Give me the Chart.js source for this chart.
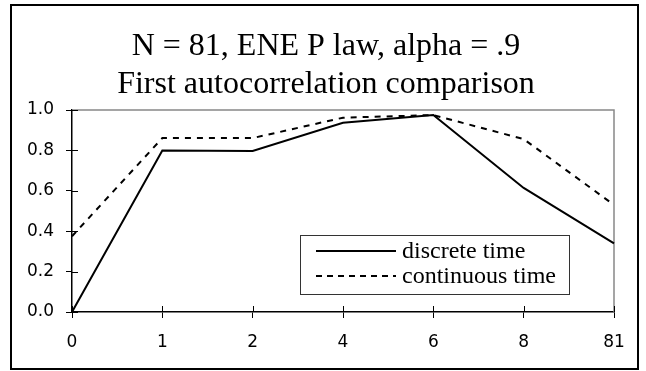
<!DOCTYPE html>
<html>
<head>
<meta charset="utf-8">
<script src="https://cdn.jsdelivr.net/npm/chart.js@4/dist/chart.umd.min.js"></script>
<style>
  html, body { margin: 0; padding: 0; background: #fff; }
  #wrap { width: 646px; height: 371px; }
</style>
</head>
<body>
<div id="wrap"><canvas id="chart" width="646" height="371"></canvas></div>
<script>
const lags = ["0", "1", "2", "4", "6", "8", "81"]
const discreteTime = [0, 0.80, 0.797, 0.937, 0.975, 0.614, 0.34]
const continuousTime = [0.375, 0.861, 0.861, 0.962, 0.975, 0.856, 0.53]
const yTicks = [0, 0.2, 0.4, 0.6, 0.8, 1.0]
const titleLines = ["N = 81, ENE P law, alpha = .9", "First autocorrelation comparison"]

const tickFont = { family: "DejaVu Sans", size: 17 }

// frame, title, gray top/right plot edge, inner half of the tick marks
const framePlugin = {
  id: "frame",
  beforeDraw(chart) {
    const ctx = chart.ctx
    ctx.save()
    ctx.fillStyle = "#fff"
    ctx.fillRect(0, 0, chart.width, chart.height)
    ctx.strokeStyle = "#000"
    ctx.lineWidth = 2
    ctx.strokeRect(11, 5, 627, 364)
    ctx.fillStyle = "#000"
    ctx.font = "32px 'Liberation Serif'"
    ctx.textAlign = "center"
    ctx.textBaseline = "alphabetic"
    ctx.fillText(titleLines[0], 326, 55)
    ctx.fillText(titleLines[1], 326, 93)
    ctx.restore()
  },
  beforeDatasetsDraw(chart) {
    const ctx = chart.ctx
    const a = chart.chartArea
    ctx.save()
    ctx.strokeStyle = "#888"
    ctx.lineWidth = 1.5
    ctx.beginPath()
    ctx.moveTo(a.left, a.top)
    ctx.lineTo(a.right, a.top)
    ctx.lineTo(a.right, a.bottom)
    ctx.stroke()
    ctx.strokeStyle = "#000"
    ctx.lineWidth = 1
    const ys = chart.scales.y
    ys.ticks.forEach(t => {
      const py = Math.round(ys.getPixelForValue(t.value)) + 0.5
      ctx.beginPath()
      ctx.moveTo(a.left, py)
      ctx.lineTo(a.left + 6, py)
      ctx.stroke()
    })
    const xs = chart.scales.x
    xs.ticks.forEach((t, i) => {
      const px = Math.round(xs.getPixelForTick(i)) + 0.5
      ctx.beginPath()
      ctx.moveTo(px, a.bottom)
      ctx.lineTo(px, a.bottom - 6)
      ctx.stroke()
    })
    ctx.restore()
  },
  afterDatasetsDraw(chart) {
    const ctx = chart.ctx
    ctx.save()
    ctx.fillStyle = "#fff"
    ctx.fillRect(300, 235, 269, 59)
    ctx.strokeStyle = "#333"
    ctx.lineWidth = 1
    ctx.strokeRect(300.5, 235.5, 269, 59)
    ctx.font = "24px 'Liberation Serif'"
    ctx.textAlign = "left"
    ctx.textBaseline = "middle"
    chart.data.datasets.forEach((ds, i) => {
      const y = 251 + i * 25
      ctx.strokeStyle = ds.borderColor
      ctx.lineWidth = ds.borderWidth
      ctx.setLineDash(ds.borderDash ? [6, 5] : [])
      ctx.beginPath()
      ctx.moveTo(316, y)
      ctx.lineTo(396, y)
      ctx.stroke()
      ctx.setLineDash([])
      ctx.fillStyle = "#000"
      ctx.fillText(ds.label, 402, y + 1)
    })
    ctx.restore()
  }
}

new Chart(document.getElementById("chart"), {
  type: "line",
  data: {
    labels: lags,
    datasets: [
      {
        label: "discrete time",
        data: discreteTime,
        borderColor: "#000",
        borderWidth: 2,
        pointRadius: 0,
        tension: 0,
      },
      {
        label: "continuous time",
        data: continuousTime,
        borderColor: "#000",
        borderWidth: 2,
        borderDash: [6, 6],
        pointRadius: 0,
        tension: 0,
      }
    ]
  },
  options: {
    responsive: false,
    animation: false,
    layout: { padding: { left: 12, right: 32, top: 110, bottom: 0 } },
    plugins: {
      legend: { display: false },
      title: { display: false },
      tooltip: { enabled: false }
    },
    scales: {
      x: {
        offset: false,
        afterFit(s) { s.height = 59 },
        grid: { drawOnChartArea: false, drawTicks: true, tickLength: 6, color: "#000" },
        border: { color: "#000", width: 1.5 },
        ticks: { color: "#000", font: tickFont, padding: 14, maxRotation: 0, autoSkip: false }
      },
      y: {
        min: 0,
        max: 1,
        afterFit(s) { s.width = 60 },
        afterBuildTicks(s) { s.ticks = yTicks.map(v => ({ value: v })) },
        grid: { drawOnChartArea: false, drawTicks: true, tickLength: 6, color: "#000" },
        border: { color: "#000", width: 1.5 },
        ticks: { color: "#000", font: tickFont, padding: 12, callback: v => v.toFixed(1) }
      }
    }
  },
  plugins: [framePlugin]
})
</script>
</body>
</html>
